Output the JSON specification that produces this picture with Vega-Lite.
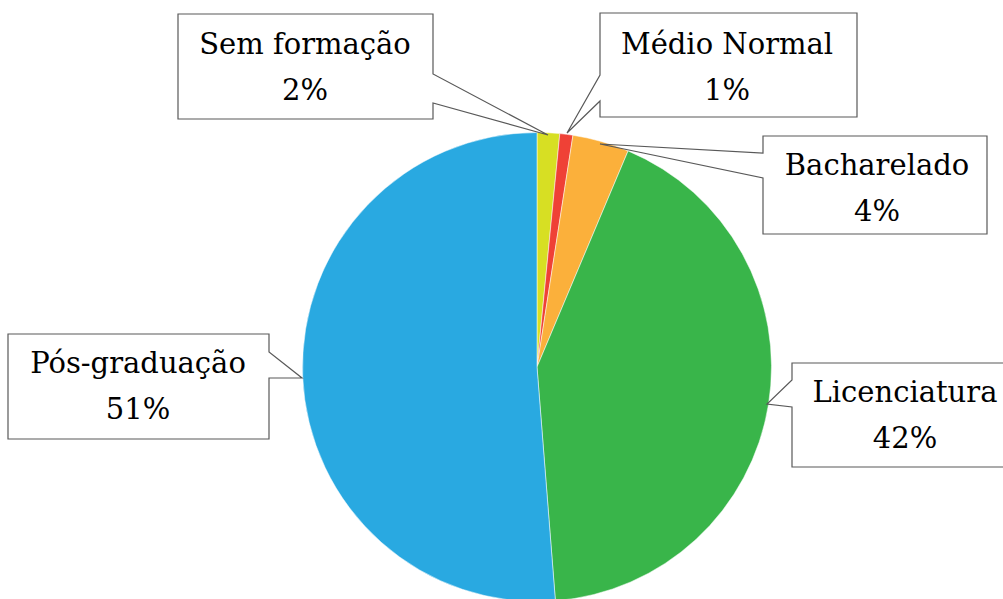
{
  "$schema": "https://vega.github.io/schema/vega-lite/v6.json",
  "width": 1003,
  "height": 599,
  "autosize": "none",
  "padding": 0,
  "background": "white",
  "view": {"stroke": null},
  "config": {"font": "DejaVu Serif"},
  "datasets": {
    "slices": [
      {"category": "Sem formação", "value": 1.55, "ordem": 1},
      {"category": "Médio Normal", "value": 0.9, "ordem": 2},
      {"category": "Bacharelado", "value": 3.9, "ordem": 3},
      {"category": "Licenciatura", "value": 42.4, "ordem": 4},
      {"category": "Pós-graduação", "value": 51.25, "ordem": 5}
    ],
    "callouts": [
      {"category": "Sem formação", "seq": 1, "cx": -359, "cy": 353},
      {"category": "Sem formação", "seq": 2, "cx": -104, "cy": 353},
      {"category": "Sem formação", "seq": 3, "cx": -104, "cy": 293},
      {"category": "Sem formação", "seq": 4, "cx": 11, "cy": 232},
      {"category": "Sem formação", "seq": 5, "cx": -104, "cy": 264},
      {"category": "Sem formação", "seq": 6, "cx": -104, "cy": 248},
      {"category": "Sem formação", "seq": 7, "cx": -359, "cy": 248},
      {"category": "Médio Normal", "seq": 1, "cx": 63, "cy": 354},
      {"category": "Médio Normal", "seq": 2, "cx": 320, "cy": 354},
      {"category": "Médio Normal", "seq": 3, "cx": 320, "cy": 250},
      {"category": "Médio Normal", "seq": 4, "cx": 63, "cy": 250},
      {"category": "Médio Normal", "seq": 5, "cx": 63, "cy": 266},
      {"category": "Médio Normal", "seq": 6, "cx": 30, "cy": 234},
      {"category": "Médio Normal", "seq": 7, "cx": 63, "cy": 292},
      {"category": "Bacharelado", "seq": 1, "cx": 226, "cy": 231},
      {"category": "Bacharelado", "seq": 2, "cx": 450, "cy": 231},
      {"category": "Bacharelado", "seq": 3, "cx": 450, "cy": 133},
      {"category": "Bacharelado", "seq": 4, "cx": 226, "cy": 133},
      {"category": "Bacharelado", "seq": 5, "cx": 226, "cy": 189},
      {"category": "Bacharelado", "seq": 6, "cx": 63, "cy": 223},
      {"category": "Bacharelado", "seq": 7, "cx": 226, "cy": 214},
      {"category": "Licenciatura", "seq": 1, "cx": 255, "cy": 4},
      {"category": "Licenciatura", "seq": 2, "cx": 473, "cy": 4},
      {"category": "Licenciatura", "seq": 3, "cx": 473, "cy": -100},
      {"category": "Licenciatura", "seq": 4, "cx": 255, "cy": -100},
      {"category": "Licenciatura", "seq": 5, "cx": 255, "cy": -40},
      {"category": "Licenciatura", "seq": 6, "cx": 230, "cy": -37},
      {"category": "Licenciatura", "seq": 7, "cx": 255, "cy": -13},
      {"category": "Pós-graduação", "seq": 1, "cx": -529, "cy": 33},
      {"category": "Pós-graduação", "seq": 2, "cx": -268, "cy": 33},
      {"category": "Pós-graduação", "seq": 3, "cx": -268, "cy": 15},
      {"category": "Pós-graduação", "seq": 4, "cx": -235, "cy": -11},
      {"category": "Pós-graduação", "seq": 5, "cx": -268, "cy": -11},
      {"category": "Pós-graduação", "seq": 6, "cx": -268, "cy": -72},
      {"category": "Pós-graduação", "seq": 7, "cx": -529, "cy": -72}
    ],
    "labels": [
      {"category": "Sem formação", "lx": -232, "ly": 313},
      {"category": "Médio Normal", "lx": 190, "ly": 313},
      {"category": "Bacharelado", "lx": 340, "ly": 192},
      {"category": "Licenciatura", "lx": 368, "ly": -35},
      {"category": "Pós-graduação", "lx": -399, "ly": -6}
    ]
  },
  "layer": [
    {
      "data": {"name": "slices"},
      "mark": {"type": "arc", "outerRadius": 234.5, "stroke": "white", "strokeWidth": 0.5},
      "encoding": {
        "theta": {"field": "value", "type": "quantitative", "stack": true},
        "order": {"field": "ordem", "type": "quantitative"},
        "color": {
          "field": "category",
          "type": "nominal",
          "scale": {
            "domain": ["Sem formação", "Médio Normal", "Bacharelado", "Licenciatura", "Pós-graduação"],
            "range": ["#D7DF23", "#EF4136", "#FBB03B", "#39B54A", "#29A9E1"]
          },
          "legend": null
        },
        "x": {"datum": 0, "type": "quantitative", "scale": {"domain": [-537, 466], "nice": false, "zero": false}, "axis": null},
        "y": {"datum": 0, "type": "quantitative", "scale": {"domain": [-232, 367], "nice": false, "zero": false}, "axis": null}
      }
    },
    {
      "data": {"name": "callouts"},
      "mark": {"type": "line", "interpolate": "linear-closed", "color": "#595959", "strokeWidth": 1.2},
      "encoding": {
        "x": {"field": "cx", "type": "quantitative"},
        "y": {"field": "cy", "type": "quantitative"},
        "detail": {"field": "category", "type": "nominal"},
        "order": {"field": "seq", "type": "quantitative"}
      }
    },
    {
      "data": {"name": "slices"},
      "transform": [
        {"joinaggregate": [{"op": "sum", "field": "value", "as": "total"}]},
        {"calculate": "[datum.category, format(datum.value / datum.total, '.0%')]", "as": "lines"},
        {"lookup": "category", "from": {"data": {"name": "labels"}, "key": "category", "fields": ["lx", "ly"]}}
      ],
      "mark": {"type": "text", "font": "DejaVu Serif", "fontSize": 29, "align": "center", "baseline": "alphabetic", "lineHeight": 45.5, "color": "#000000"},
      "encoding": {
        "x": {"field": "lx", "type": "quantitative"},
        "y": {"field": "ly", "type": "quantitative"},
        "text": {"field": "lines"}
      }
    }
  ]
}
